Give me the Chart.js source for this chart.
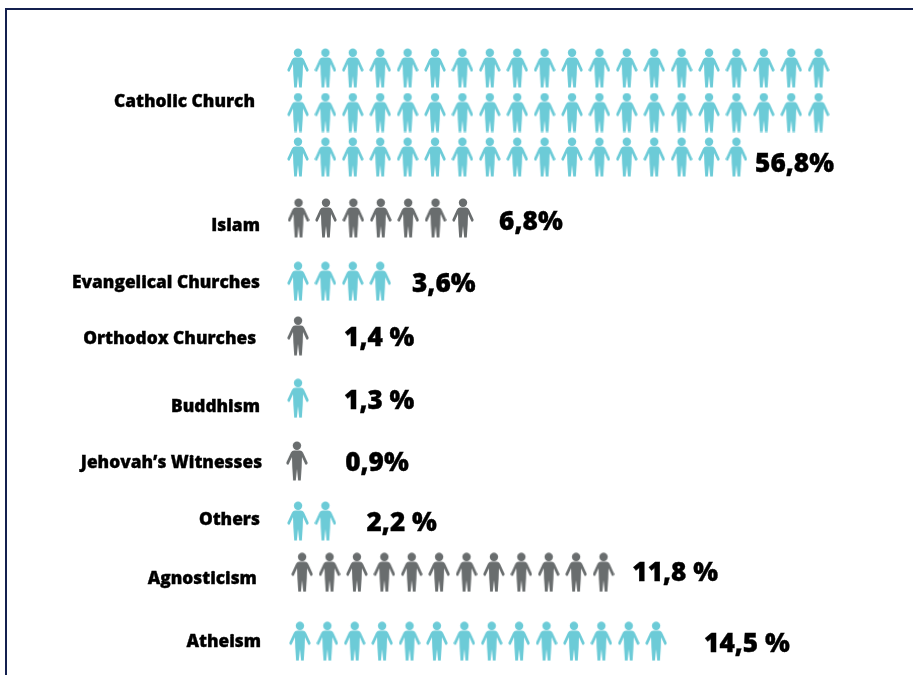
<!DOCTYPE html>
<html>
<head>
<meta charset="utf-8">
<title>Religions</title>
<style>
html, body { margin: 0; padding: 0; background: #fff; overflow: hidden; }
#wrap { position: relative; width: 913px; height: 675px; overflow: hidden; }
#frame { position: absolute; left: 5px; top: 7.5px; width: 930px; height: 690px; border: 2px solid #14204f; box-sizing: border-box; }
canvas { position: absolute; left: 0; top: 0; }
</style>
<script src="https://cdn.jsdelivr.net/npm/chart.js@4"></script>
</head>
<body>
<div id="wrap">
  <div id="frame"></div>
  <canvas id="religions" width="913" height="675"></canvas>
</div>
<script>
const categories = ['Catholic Church', 'Islam', 'Evangelical Churches', 'Orthodox Churches', 'Buddhism', "Jehovah\u2019s Witnesses", 'Others', 'Agnosticism', 'Atheism'];
const valueLabels = ['56,8%', '6,8%', '3,6%', '1,4 %', '1,3 %', '0,9%', '2,2 %', '11,8 %', '14,5 %'];
const percentValues = [56.8, 6.8, 3.6, 1.4, 1.3, 0.9, 2.2, 11.8, 14.5];
const figureCounts = [57, 7, 4, 1, 1, 1, 2, 12, 14];
const figuresPerLine = 20;

// row placement on the y axis, one unit is one line of figures
const rowLines = [0, 3.37, 4.79, 6.02, 7.42, 8.83, 10.18, 11.33, 12.88];
const rowShift = [0, 0.02, 0, 0, 0, -0.04, 0, 0.15, 0.07];
const categoryLines = [0.77, 3.56, 4.84, 6.1, 7.63, 8.88, 10.16, 11.49, 12.91];
const categoryRight = [-1.57, -1.39, -1.39, -1.53, -1.39, -1.31, -1.39, -1.5, -1.35];
const valueLines = [2.18, 3.47, 4.86, 6.07, 7.49, 8.89, 10.23, 11.35, 12.95];
const valueLeft = [16.68, 7.34, 4.16, 1.68, 1.68, 1.72, 2.5, 12.2, 14.82];

const teal = '#6ccbd7';
const grey = '#696d6e';
const rowColors = [teal, grey, teal, grey, teal, grey, teal, grey, teal];

// small person icon, drawn once and reused as the point style
function personIcon(color) {
  const c = document.createElement('canvas');
  c.width = 22;
  c.height = 40;
  const g = c.getContext('2d');
  g.fillStyle = color;
  g.beginPath();
  g.arc(11, 4.8, 4.2, 0, Math.PI * 2);
  g.fill();
  g.beginPath();
  g.moveTo(8, 9.6);
  g.lineTo(14, 9.6);
  g.quadraticCurveTo(16, 9.8, 17, 11.6);
  g.lineTo(21.6, 21.6);
  g.quadraticCurveTo(21.9, 24.2, 19.4, 23.6);
  g.lineTo(16, 16);
  g.lineTo(15.7, 26);
  g.lineTo(14.8, 39.4);
  g.lineTo(12.2, 39.4);
  g.lineTo(11, 28);
  g.lineTo(9.8, 39.4);
  g.lineTo(7.2, 39.4);
  g.lineTo(6.3, 26);
  g.lineTo(6, 16);
  g.lineTo(2.6, 23.6);
  g.quadraticCurveTo(0.1, 24.2, 0.4, 21.6);
  g.lineTo(5, 11.6);
  g.quadraticCurveTo(6, 9.8, 8, 9.6);
  g.closePath();
  g.fill();
  return c;
}

const datasets = categories.map(function(name, i) {
  const points = [];
  for (let n = 0; n < figureCounts[i]; n++) {
    points.push({
      x: n % figuresPerLine + rowShift[i],
      y: rowLines[i] + Math.floor(n / figuresPerLine)
    });
  }
  return {
    label: name,
    data: points,
    pointStyle: personIcon(rowColors[i]),
    pointRadius: 11,
    showLine: false
  };
});

// category names and percentages, placed through the chart scales
const rowText = {
  id: 'rowText',
  afterDatasetsDraw(chart) {
    const ctx = chart.ctx;
    const xs = chart.scales.x;
    const ys = chart.scales.y;
    ctx.save();
    ctx.fillStyle = '#000';
    ctx.strokeStyle = '#000';
    ctx.lineWidth = 0.35;
    ctx.textBaseline = 'middle';
    ctx.font = '800 17.3px "Open Sans"';
    ctx.textAlign = 'right';
    categories.forEach(function(name, i) {
      const x = xs.getPixelForValue(categoryRight[i]);
      const y = ys.getPixelForValue(categoryLines[i]);
      ctx.fillText(name, x, y);
      ctx.strokeText(name, x, y);
    });
    ctx.font = '800 26.2px "Open Sans"';
    ctx.textAlign = 'left';
    valueLabels.forEach(function(text, i) {
      const x = xs.getPixelForValue(valueLeft[i]);
      const y = ys.getPixelForValue(valueLines[i]);
      ctx.fillText(text, x, y);
      ctx.strokeText(text, x, y);
    });
    ctx.restore();
  }
};

new Chart(document.getElementById('religions').getContext('2d'), {
  type: 'scatter',
  data: { datasets: datasets },
  options: {
    responsive: false,
    animation: false,
    layout: { padding: 0, autoPadding: false },
    plugins: { legend: { display: false }, tooltip: { enabled: false } },
    scales: {
      x: { type: 'linear', display: false, min: -10.876, max: 22.445 },
      y: { type: 'linear', display: false, reverse: true, min: -1.528, max: 13.64 }
    }
  },
  plugins: [rowText]
});
</script>
</body>
</html>
